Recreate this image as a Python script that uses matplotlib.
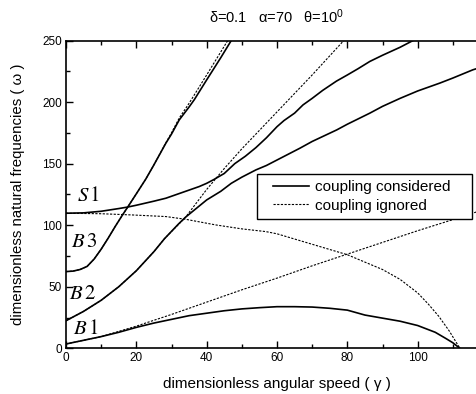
import numpy as np
import matplotlib
matplotlib.use('Agg')
import matplotlib.pyplot as plt
from matplotlib.patches import Rectangle
from matplotlib.lines import Line2D

plt.rcParams.update({
    'font.family': 'Liberation Sans',
    'mathtext.fontset': 'custom',
    'mathtext.rm': 'Liberation Sans',
    'mathtext.it': 'Liberation Sans:italic',
    'xtick.direction': 'in',
    'ytick.direction': 'in',
    'xtick.top': True,
})

# coupling considered (solid)
g_b1 = [0, 5, 10, 15, 20, 25, 30, 35, 40, 45, 50, 55, 60, 65, 70, 75, 80, 85, 90, 95, 100, 105, 108, 110, 112]
w_b1 = [3.5, 6.5, 9.5, 13, 17, 20.5, 23.5, 26.5, 28.5, 30.5, 32, 33, 33.8, 33.8, 33.5, 32.5, 31, 27, 24.5, 22, 18.5, 13, 8, 4.5, 0]

g_b2 = [0, 5, 10, 15, 20, 25, 28, 30, 32, 34, 37, 40, 44, 47, 50, 54, 57, 61, 66.5, 70, 77, 80, 86.4, 90, 95, 100, 106.3, 110, 115.7, 120]
w_b2 = [22.4, 30, 39, 50, 63, 78.5, 89, 95, 101, 106.5, 113.5, 120.5, 127.5, 134, 139, 144.9, 148.5, 154.4, 162.5, 168, 177.4, 182, 191, 196.5, 203, 209, 215.4, 219.5, 226.2, 230]

g_b3 = [0, 2, 4, 6, 8, 10, 12, 14, 16, 17.5, 20, 22.7, 25, 28.4, 30, 32.2, 35, 36.5, 40, 44, 47]
w_b3 = [62.3, 62.7, 64, 66.5, 72.5, 80.5, 89.5, 99, 108, 114.5, 125.5, 137.5, 149, 166.6, 174, 185.5, 196, 202, 218, 236, 250]

g_s1 = [0, 5, 10, 15, 17.5, 20, 25, 28.4, 32, 35, 37.9, 40, 42, 45, 48, 51, 54, 57, 60, 62, 65, 67.4, 70, 73, 76.9, 80, 83, 86.4, 90, 95, 98.7]
w_s1 = [109.7, 110, 111.3, 113.5, 114.7, 116.2, 119.5, 121.9, 125.5, 128.5, 131.4, 134, 137, 142, 150, 156, 163, 171, 180, 185, 191, 197.7, 203, 209.5, 217, 222, 227, 233, 238, 244.5, 250]

# coupling ignored (dashed)
g_b1i = [0, 10, 20, 30, 40, 50, 60, 70, 80, 90, 100, 110, 117]
w_b1i = [3.5, 9.5, 18, 27.5, 37.5, 47.5, 57, 67, 76.5, 86, 95.5, 104.5, 111]

g_b2i = [0, 5, 10, 15, 20, 25, 28, 34, 40, 45, 50, 56, 60, 70, 79]
w_b2i = [22.4, 30, 39, 50, 63, 78.5, 89, 106.5, 129, 146, 162, 180, 192, 222, 250]

g_b3i = [0, 2, 4, 6, 8, 10, 12, 14, 16, 17.5, 20, 22.7, 25, 28.4, 30, 32.2, 35, 40, 46]
w_b3i = [62.3, 62.7, 64, 66.5, 72.5, 80.5, 89.5, 99, 108, 114.5, 125.5, 137.5, 149, 167, 175, 187, 199, 222, 250]

g_s1i = [0, 10, 18.9, 28.4, 34, 42.6, 50, 56.8, 60, 70, 80, 90, 95, 100, 103, 106, 109, 112]
w_s1i = [109.7, 109.3, 108.3, 107, 104.8, 100.2, 97, 94.8, 93, 84.5, 76, 64, 56, 45, 36, 26, 14, 0]

mode_labels = ['S', 'B', 'B', 'B']
mode_nums = ['1', '3', '2', '1']
label_pos = [(6.3, 124), (5.1, 86.6), (4.8, 44.5), (5.7, 16)]

legend_labels = ['coupling considered', 'coupling ignored']

fig = plt.figure(figsize=(4.77, 3.94), dpi=100)
ax = fig.add_axes([66/477, 1-348.3/394, 422/477, 307.8/394])

dash = (0, (2.0, 1.3))
lw_s, lw_d = 1.2, 0.8
for g, w in [(g_b1, w_b1), (g_b2, w_b2), (g_b3, w_b3), (g_s1, w_s1)]:
    ax.plot(g, w, 'k-', lw=lw_s)
for g, w in [(g_b1i, w_b1i), (g_b2i, w_b2i), (g_b3i, w_b3i), (g_s1i, w_s1i)]:
    ax.plot(g, w, color='k', ls=dash, lw=lw_d)

for lab, num, (x, y) in zip(mode_labels, mode_nums, label_pos):
    ax.text(x, y, rf'${lab}\,\mathrm{{{num}}}$', math_fontfamily='stix', fontsize=15,
            ha='center', va='center')

ax.set_xlim(0, 120)
ax.set_ylim(0, 250)
ax.set_xticks(np.arange(0, 101, 20))
ax.set_xticks(np.arange(10, 120, 10), minor=True)
ax.set_yticks(np.arange(0, 251, 50))
ax.set_yticks(np.arange(25, 250, 25), minor=True)
ax.tick_params(which='major', length=5, width=1, labelsize=8.5, pad=3)
ax.tick_params(which='minor', length=3, width=1)
for s in ax.spines.values():
    s.set_linewidth(1.2)

ax.set_xlabel('dimensionless angular speed ( γ )', fontsize=11, labelpad=9)
ax.set_ylabel('dimensionless natural frequencies ( ω )', fontsize=10.8, labelpad=12)
fig.text(277/477, 1-17/394, 'δ=0.1   α=70   θ=10$^0$', fontsize=10.5, ha='center', va='center')

# legend box drawn by hand to match its fixed size
x0, x1 = (257.3-66)/422, (471.7-66)/422
y0, y1 = (348.3-219.3)/307.8, (348.3-174.3)/307.8
ax.add_patch(Rectangle((x0, y0), x1-x0, y1-y0, transform=ax.transAxes,
                       facecolor='white', edgecolor='k', lw=1.0, zorder=4))
handles = [Line2D([], [], color='k', lw=lw_s), Line2D([], [], color='k', ls=dash, lw=lw_d)]
leg = ax.legend(handles, legend_labels, loc='upper left',
                bbox_to_anchor=((272.7-66)/422, (348.3-180)/307.8),
                borderaxespad=0, borderpad=0, fontsize=11, handlelength=2.35,
                handletextpad=0.4, labelspacing=0.3, frameon=False)
leg.set_zorder(5)

fig.savefig('out.png', dpi=100)
